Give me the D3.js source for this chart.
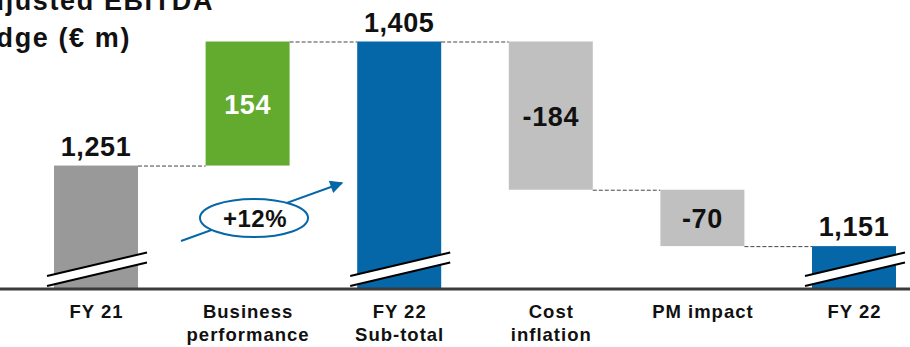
<!DOCTYPE html>
<html>
<head>
<meta charset="utf-8">
<script src="https://cdn.jsdelivr.net/npm/d3@7"></script>
<style>
  html, body { margin: 0; padding: 0; background: #fff; }
  svg { display: block; font-family: "Liberation Sans", Arial, sans-serif; font-weight: bold; }
</style>
</head>
<body>
<svg id="chart" width="910" height="347"></svg>
<script>
// EBITDA bridge: FY 21 -> FY 22 (€ m)
const categories = [
  ["FY 21"],
  ["Business", "performance"],
  ["FY 22", "Sub-total"],
  ["Cost", "inflation"],
  ["PM impact"],
  ["FY 22"]
];
const values = [1251, 154, 1405, -184, -70, 1151];
const kinds = ["total", "delta", "total", "delta", "delta", "total"];
const valueLabels = ["1,251", "154", "1,405", "-184", "-70", "1,151"];
const titleLines = ["Adjusted EBITDA", "bridge (€ m)"];
const growthLabel = "+12%";

// Value shown where the broken axis meets the baseline
const axisFloor = 1099;

const colors = ["#999999", "#62ab2f", "#0566a8", "#c0c0c0", "#c0c0c0", "#0566a8"];

const svg = d3.select("#chart");
const axisY = 288;

const x = d3.scaleBand()
  .domain(d3.range(categories.length))
  .range([20.2, 929.8])
  .paddingInner(0.446)
  .paddingOuter(0.223);

const y = d3.scaleLinear()
  .domain([axisFloor, 1405])
  .range([axisY, 41.5]);

// Build start / end levels of each step of the bridge
let running = 0;
const steps = values.map((v, i) => {
  let start, end;
  if (kinds[i] === "total") { start = axisFloor; end = v; running = v; }
  else { start = running; end = running + v; running = end; }
  return { i, v, start, end, kind: kinds[i], label: valueLabels[i], color: colors[i] };
});

// Dashed connectors between consecutive bars
steps.slice(0, -1).forEach((s, k) => {
  const lvl = s.end;
  svg.append("line")
    .attr("x1", x(s.i) + x.bandwidth())
    .attr("x2", x(steps[k + 1].i))
    .attr("y1", y(lvl) + 0.5)
    .attr("y2", y(lvl) + 0.5)
    .attr("stroke", "#444")
    .attr("stroke-width", 1)
    .attr("stroke-dasharray", "4,2");
});

// Bars
svg.selectAll("rect.bar")
  .data(steps)
  .join("rect")
  .attr("class", "bar")
  .attr("x", d => x(d.i))
  .attr("width", x.bandwidth())
  .attr("y", d => y(Math.max(d.start, d.end)))
  .attr("height", d => Math.abs(y(d.start) - y(d.end)))
  .attr("fill", d => d.color);

// Axis-break marks on the total bars
steps.filter(d => d.kind === "total").forEach(d => {
  const xl = x(d.i) - 7, xr = x(d.i) + x.bandwidth() + 9;
  const a1 = [xl, axisY - 12], b1 = [xr, axisY - 35.5];
  const a2 = [xl, axisY - 2], b2 = [xr, axisY - 25.5];
  svg.append("polygon")
    .attr("points", [a1, b1, b2, a2].map(p => p.join(",")).join(" "))
    .attr("fill", "#fff");
  [[a1, b1], [a2, b2]].forEach(([p, q]) => {
    svg.append("line")
      .attr("x1", p[0]).attr("y1", p[1])
      .attr("x2", q[0]).attr("y2", q[1])
      .attr("stroke", "#000").attr("stroke-width", 2);
  });
});

// Baseline
svg.append("line")
  .attr("x1", 0).attr("x2", 910)
  .attr("y1", axisY + 1).attr("y2", axisY + 1)
  .attr("stroke", "#3a3a3a").attr("stroke-width", 3);

// Value labels: totals above the bar, deltas centred inside
svg.selectAll("text.val")
  .data(steps)
  .join("text")
  .attr("class", "val")
  .attr("x", d => x(d.i) + x.bandwidth() / 2)
  .attr("y", d => d.kind === "total"
    ? y(d.end) - 10
    : (y(d.start) + y(d.end)) / 2 + 10)
  .attr("text-anchor", "middle")
  .attr("font-size", 27)
  .attr("letter-spacing", 0.6)
  .attr("fill", d => d.kind === "delta" && d.v > 0 ? "#fff" : "#111")
  .text(d => d.label);

// Category labels under the baseline
const catG = svg.selectAll("text.cat")
  .data(categories)
  .join("text")
  .attr("class", "cat")
  .attr("x", (d, i) => x(i) + x.bandwidth() / 2)
  .attr("y", 318)
  .attr("text-anchor", "middle")
  .attr("font-size", 18.5)
  .attr("letter-spacing", 1)
  .attr("fill", "#111");
catG.selectAll("tspan")
  .data((d, i) => d.map(t => ({ t, cx: x(i) + x.bandwidth() / 2 + 0.5 })))
  .join("tspan")
  .attr("x", d => d.cx)
  .attr("dy", (d, k) => k === 0 ? 0 : 23)
  .text(d => d.t);

// Growth arrow with the percentage bubble
const defs = svg.append("defs");
defs.append("marker")
  .attr("id", "arrowhead")
  .attr("viewBox", "0 0 10 10")
  .attr("refX", 9).attr("refY", 5)
  .attr("markerWidth", 17).attr("markerHeight", 13)
  .attr("markerUnits", "userSpaceOnUse")
  .attr("orient", "auto")
  .append("path")
  .attr("d", "M0,0 L10,5 L0,10 Z")
  .attr("fill", "#0566a8");

svg.append("line")
  .attr("x1", 181).attr("y1", 241)
  .attr("x2", 342).attr("y2", 183)
  .attr("stroke", "#0566a8").attr("stroke-width", 2)
  .attr("marker-end", "url(#arrowhead)");

svg.append("ellipse")
  .attr("cx", 254).attr("cy", 218)
  .attr("rx", 54).attr("ry", 19)
  .attr("fill", "#fff")
  .attr("stroke", "#0566a8").attr("stroke-width", 2);

svg.append("text")
  .attr("x", 255).attr("y", 227)
  .attr("text-anchor", "middle")
  .attr("font-size", 24)
  .attr("letter-spacing", 0.5)
  .attr("fill", "#111")
  .text(growthLabel);

// Title (runs off the top-left edge)
const title = svg.append("text")
  .attr("text-anchor", "end")
  .attr("font-size", 27)
  .attr("letter-spacing", 1.6)
  .attr("fill", "#111");
title.append("tspan").attr("x", 214).attr("y", 10).text(titleLines[0]);
title.append("tspan").attr("x", 131).attr("y", 47).text(titleLines[1]);
</script>
</body>
</html>
